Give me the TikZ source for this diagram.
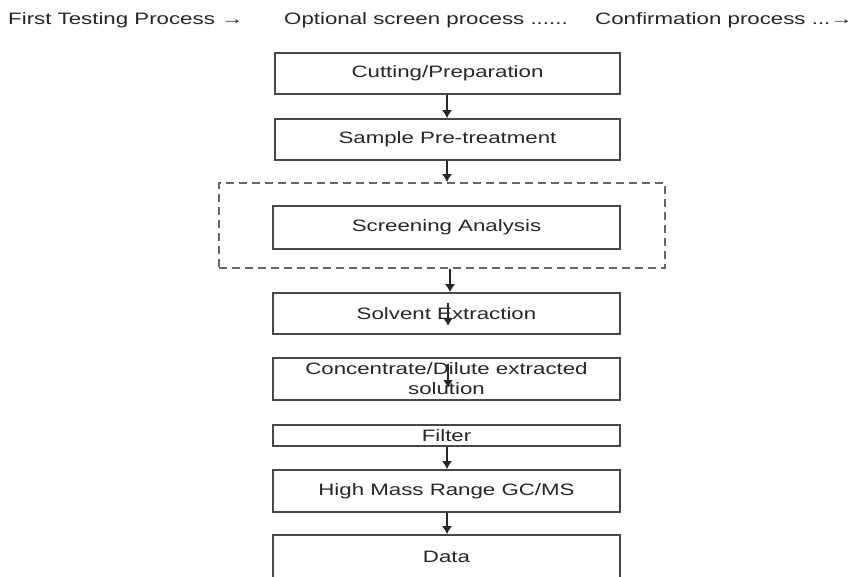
\documentclass[tikz,border=0pt]{standalone}
\usepackage{fontspec}
\setmainfont{Liberation Sans}[FakeStretch=1.35]
\usetikzlibrary{arrows.meta}
\tikzset{
  box/.style={draw=black!72, line width=1.6pt, rectangle, inner sep=0pt, minimum width=347pt,
    font=\fontsize{16.5}{20}\selectfont, text=black!85, align=center},
  optbox/.style={draw=black!60, line width=1.6pt, rectangle, inner sep=0pt,
    dash pattern=on 8pt off 5pt, minimum width=446pt, minimum height=85pt},
  arr/.style={draw=black!85, line width=1.5pt, -{Latex[length=8pt,width=10pt]}},
  head/.style={anchor=base west, inner sep=0pt, font=\fontsize{16.5}{20}\selectfont, text=black!85}
}
\begin{document}
\begin{tikzpicture}[x=1pt,y=-1pt]
\clip (0,0) rectangle (851,577);
\useasboundingbox (0,0) rectangle (851,577);
\fill[white] (0,0) rectangle (851,577);
% header
\node[head] (h1) at (8,25) {First Testing Process →};
\node[head] (h2) at (284,25) {Optional screen process ......};
\node[head] (h3) at (595,25) {Confirmation process ...→};
% boxes
\node[box, minimum width=345pt, minimum height=41pt] (cut) at (447.5,73.5) {Cutting/Preparation};
\node[box, minimum width=345pt, minimum height=41pt] (samp) at (447.5,139.5) {Sample Pre-treatment};
\node[optbox] (opt) at (442,225.5) {};
\node[box, minimum height=43pt] (scr) at (446.5,227.5) {Screening Analysis};
\node[box, minimum height=41pt] (solv) at (446.5,313.5) {Solvent Extraction};
\node[box, minimum height=42pt] (conc) at (446.5,379) {Concentrate/Dilute extracted\\solution};
\node[box, minimum height=21pt] (filt) at (446.5,435.5) {Filter};
\node[box, minimum height=44pt] (data) at (446.5,557) {Data};
\node[box, minimum height=42pt] (gcms) at (446.5,491) {High Mass Range GC/MS};
% connectors
\draw[arr] (cut.south -| 447,0) -- (samp.north -| 447,0);
\draw[arr] (samp.south -| 447,0) -- (opt.north -| 447,0);
\draw[arr] (opt.south -| 450,0) -- (solv.north -| 450,0);
\coordinate (s1) at (448,303);
\coordinate (s2) at (448,326);
\draw[arr] (s1) -- (s2);
\coordinate (c1) at (448,364);
\coordinate (c2) at (448,388);
\draw[arr] (c1) -- (c2);
\draw[arr] (filt.south -| 447,0) -- (gcms.north -| 447,0);
\draw[arr] (gcms.south -| 447,0) -- (data.north -| 447,0);
\end{tikzpicture}
\end{document}
